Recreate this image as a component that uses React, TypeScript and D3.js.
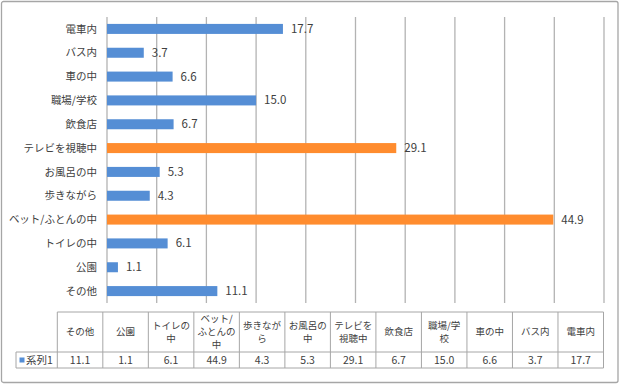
import React from "react";
import * as d3 from "d3";

const categories = ["その他", "公園", "トイレの中", "ベット/ふとんの中", "歩きながら", "お風呂の中", "テレビを視聴中", "飲食店", "職場/学校", "車の中", "バス内", "電車内"];
const values = [11.1, 1.1, 6.1, 44.9, 4.3, 5.3, 29.1, 6.7, 15.0, 6.6, 3.7, 17.7];
const highlighted = ["ベット/ふとんの中", "テレビを視聴中"];
const headerLines = [["その他"], ["公園"], ["トイレの", "中"], ["ベット/", "ふとんの", "中"], ["歩きなが", "ら"], ["お風呂の", "中"], ["テレビを", "視聴中"], ["飲食店"], ["職場/学", "校"], ["車の中"], ["バス内"], ["電車内"]];
const xTicks = [0, 5, 10, 15, 20, 25, 30, 35, 40, 45, 50];
const seriesName = "系列1";

const W = 620, H = 385;
const FONT = "'Noto Sans CJK JP', 'Noto Sans', sans-serif";
const TEXT = "#404040";
const BLUE = "#558ED5";
const ORANGE = "#FF8C2E";

export default function App() {
  const x = d3.scaleLinear().domain([0, 50]).range([107, 604]);
  const y = d3.scaleBand<string>().domain([...categories].reverse()).range([17, 303]).paddingInner(0.58).paddingOuter(0.29);
  const col = d3.scaleBand<string>().domain(categories).range([57.3, 603.5]);
  const tTop = 312, tMid = 352, tBot = 368, tLeft = 16;
  const fmt = d3.format(".1f");
  return (
    <svg width={W} height={H} style={{ position: "absolute", left: 0, top: 0 }} fontFamily={FONT}>
      <rect x={0} y={0} width={W} height={H} fill="#fff" />
      <rect x={1.5} y={1.5} width={616.5} height={381} fill="none" stroke="#a6a6a6" strokeWidth={1.3} rx={2} />
      {xTicks.map((t) => (
        <line key={t} x1={x(t)} x2={x(t)} y1={17} y2={303} stroke="#b3b3b3" strokeWidth={1.3} />
      ))}
      {categories.map((c, i) => {
        const yy = y(c)!;
        const bw = y.bandwidth();
        const fill = highlighted.includes(c) ? ORANGE : BLUE;
        return (
          <g key={c}>
            <rect x={x(0)} y={yy} width={x(values[i]) - x(0)} height={bw} fill={fill} />
            <text x={97} y={yy + bw / 2} dy="0.35em" textAnchor="end" fontSize={10.5} fill={TEXT}>{c}</text>
            <text x={x(values[i]) + 8} y={yy + bw / 2} dy="0.35em" fontSize={11.5} fill={TEXT}>{fmt(values[i])}</text>
          </g>
        );
      })}
      {/* data table */}
      <g stroke="#a6a6a6" strokeWidth={1} fill="none">
        <line x1={57.3} x2={603.5} y1={tTop} y2={tTop} />
        <line x1={tLeft} x2={603.5} y1={tMid} y2={tMid} />
        <line x1={tLeft} x2={603.5} y1={tBot} y2={tBot} />
        <line x1={tLeft} x2={tLeft} y1={tMid} y2={tBot} />
        {categories.map((c) => (
          <line key={c} x1={col(c)!} x2={col(c)!} y1={tTop} y2={tBot} />
        ))}
        <line x1={603.5} x2={603.5} y1={tTop} y2={tBot} />
      </g>
      {categories.map((c, i) => {
        const cx = col(c)! + col.bandwidth() / 2;
        const lines = headerLines[i];
        const lh = 13;
        const y0 = (tTop + tMid) / 2 - ((lines.length - 1) * lh) / 2;
        return (
          <g key={c}>
            {lines.map((l, j) => (
              <text key={j} x={cx} y={y0 + j * lh} dy="0.35em" textAnchor="middle" fontSize={9.5} fill={TEXT}>{l}</text>
            ))}
            <text x={cx} y={(tMid + tBot) / 2} dy="0.35em" textAnchor="middle" fontSize={10.5} fill={TEXT}>{fmt(values[i])}</text>
          </g>
        );
      })}
      <rect x={19.5} y={357.5} width={5} height={5} fill={BLUE} />
      <text x={26} y={(tMid + tBot) / 2} dy="0.35em" fontSize={10.5} fill={TEXT}>{seriesName}</text>
    </svg>
  );
}
